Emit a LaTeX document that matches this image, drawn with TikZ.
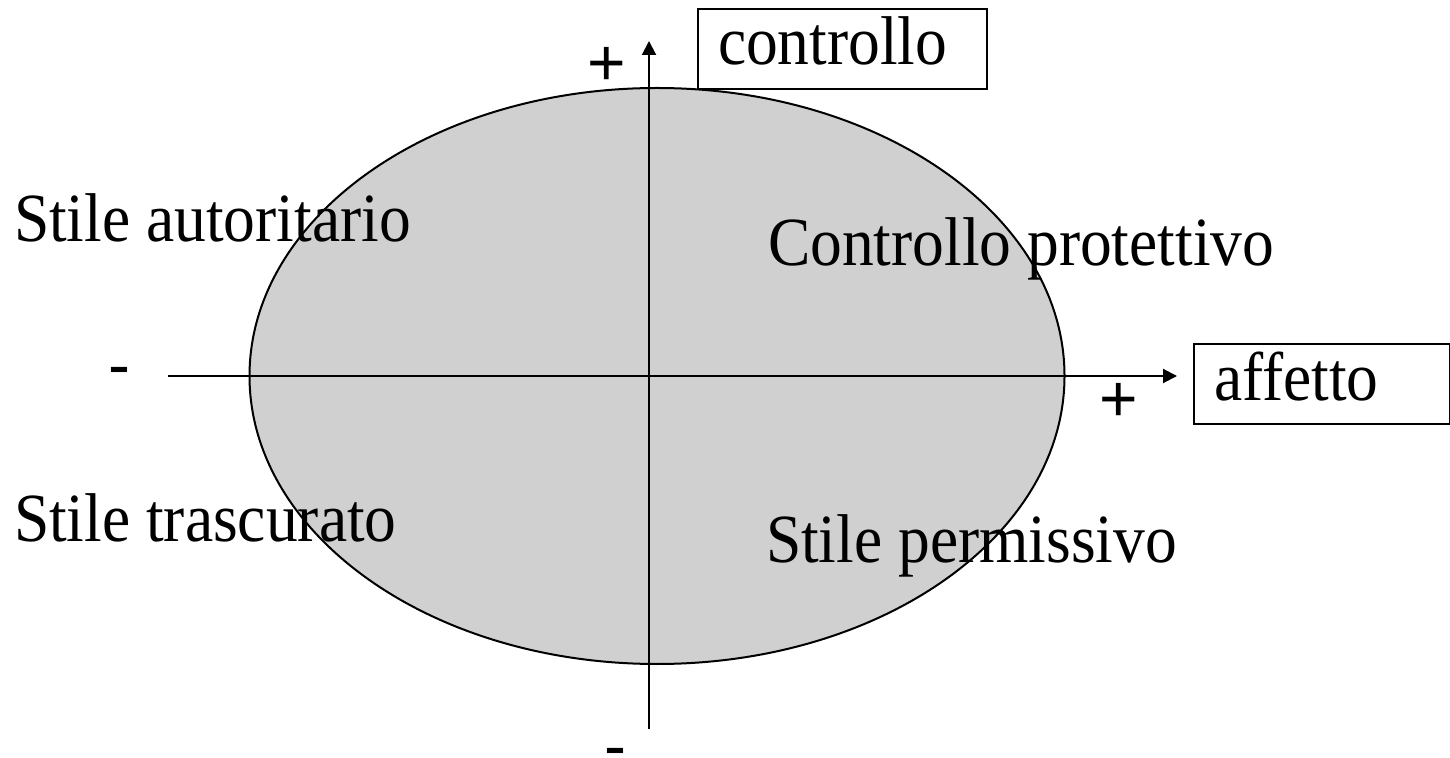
\documentclass[tikz,border=0pt]{standalone}
\usepackage{fontspec}
\setmainfont{Liberation Serif}[FakeStretch=0.92]
\newfontfamily\signfont{Liberation Sans}
\usetikzlibrary{arrows.meta}
\definecolor{ellgray}{RGB}{208,208,208}

\begin{document}
\begin{tikzpicture}[x=0.5pt,y=-0.5pt,>={Triangle[length=7pt,width=7pt]},
  line width=1pt,
  txt/.style={inner sep=0pt,font=\fontsize{34.5}{40}\selectfont},
  sign/.style={inner sep=0pt,anchor=base,font=\signfont\fontsize{33}{38}\selectfont},
  box node/.style={draw,anchor=west,align=left,inner xsep=10pt,inner ysep=0pt,
    minimum height=40pt,text height=24pt,text depth=8pt,
    font=\fontsize{34.5}{40}\selectfont}]

  \useasboundingbox (0,0) rectangle (1450,758);

  \draw[fill=ellgray] (657,376) ellipse [x radius=203.75pt, y radius=144pt];

  \coordinate (south) at (649,729);
  \coordinate (north) at (649,41);
  \coordinate (west) at (168,376);
  \coordinate (east) at (1177,376);
  \draw[->] (south) -- (north);
  \draw[->] (west) -- (east);

  \node[box node,text width=124.5pt] (ctrl) at (697,49) {controllo};
  \node[box node,text width=108pt] (aff) at (1193,384.5) {affetto};

  \node[txt,anchor=base west] (aut) at (13,242) {Stile autoritario};
  \node[txt,anchor=base west] (prot) at (767,266) {Controllo protettivo};
  \node[txt,anchor=base west] (trasc) at (13,542) {Stile trascurato};
  \node[txt,anchor=base west] (perm) at (765,562) {Stile permissivo};

  % segni degli assi
  \node[sign] (pn) at (607,86) {+};
  \node[sign] (me) at (119,388) {-};
  \node[sign] (pe) at (1119,422) {+};
  \node[sign] (ms) at (615,768) {-};
\end{tikzpicture}
\end{document}
